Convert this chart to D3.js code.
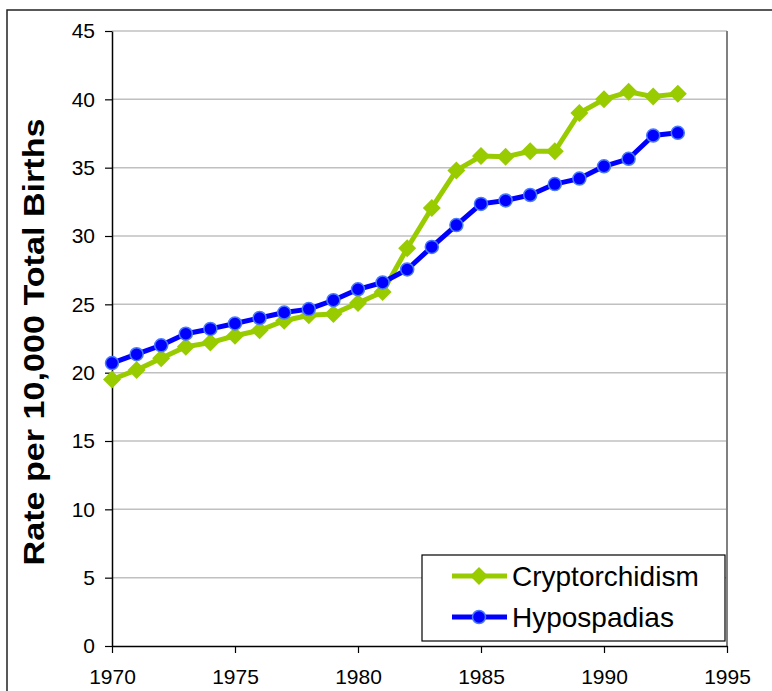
<!DOCTYPE html>
<html>
<head>
<meta charset="utf-8">
<script src="https://cdn.jsdelivr.net/npm/d3@7"></script>
<style>
  body { margin: 0; background: #fff; }
  text { font-family: "Liberation Sans", Arial, sans-serif; }
</style>
</head>
<body>
<div id="chart"></div>
<script>
var years = d3.range(1970, 1994);
var cryptorchidism = [19.5, 20.2, 21.05, 21.9, 22.2, 22.7, 23.1, 23.8, 24.2, 24.3, 25.1, 25.9,
    29.1, 32.05, 34.8, 35.85, 35.8, 36.2, 36.2, 39.0, 40.0, 40.55, 40.2, 40.4];
var hypospadias = [20.7, 21.35, 22.0, 22.85, 23.2, 23.6, 24.0, 24.4, 24.65, 25.3, 26.1, 26.6,
    27.55, 29.2, 30.8, 32.35, 32.6, 33.0, 33.8, 34.2, 35.1, 35.65, 37.35, 37.55];
var xTicks = [1970, 1975, 1980, 1985, 1990, 1995];
var yTicks = [0, 5, 10, 15, 20, 25, 30, 35, 40, 45];
var seriesNames = ["Cryptorchidism", "Hypospadias"];

var width = 772;
var height = 691;
var green = "#99CC00";
var blue = "#0000FF";

var svg = d3.select("#chart")
    .append("svg")
    .attr("width", width)
    .attr("height", height);

// outer chart border (cut off at right and bottom)
svg.append("rect")
    .attr("x", 7)
    .attr("y", 10)
    .attr("width", 800)
    .attr("height", 720)
    .attr("fill", "white")
    .attr("stroke", "#222")
    .attr("stroke-width", 1.5);

var x = d3.scaleLinear().domain([1970, 1995]).range([112, 727]);
var y = d3.scaleLinear().domain([0, 45]).range([646, 31]);

// gridlines
svg.append("g")
    .selectAll("line")
    .data(yTicks.filter(function (d) { return d > 0; }))
    .enter()
    .append("line")
    .attr("x1", x(1970))
    .attr("x2", x(1995))
    .attr("y1", function (d) { return y(d); })
    .attr("y2", function (d) { return y(d); })
    .attr("stroke", "#C0C0C0")
    .attr("stroke-width", 1.5);

// plot area right border
svg.append("line")
    .attr("x1", x(1995)).attr("x2", x(1995))
    .attr("y1", y(45)).attr("y2", y(0))
    .attr("stroke", "#808080")
    .attr("stroke-width", 2);

// y axis
var yAxis = d3.axisLeft(y).tickValues(yTicks).tickSize(7).tickSizeOuter(0).tickPadding(10);
var gy = svg.append("g")
    .attr("transform", "translate(" + x(1970) + ",0)")
    .call(yAxis);
gy.select(".domain").attr("stroke", "#000").attr("stroke-width", 1.5);
gy.selectAll(".tick line").attr("stroke", "#000").attr("stroke-width", 1.2);
gy.selectAll(".tick text")
    .style("font-family", '"Liberation Sans", Arial, sans-serif')
    .style("font-size", "21px")
    .attr("fill", "#000");

// x axis
var xAxis = d3.axisBottom(x).tickValues(xTicks).tickFormat(d3.format("d")).tickSize(7).tickSizeOuter(0).tickPadding(16);
var gx = svg.append("g")
    .attr("transform", "translate(0," + y(0) + ")")
    .call(xAxis);
gx.select(".domain").attr("stroke", "#000").attr("stroke-width", 1.5);
gx.selectAll(".tick line").attr("stroke", "#000").attr("stroke-width", 1.2);
gx.selectAll(".tick text")
    .style("font-family", '"Liberation Sans", Arial, sans-serif')
    .style("font-size", "21px")
    .attr("fill", "#000");

// y axis title
svg.append("text")
    .attr("transform", "translate(44,342) rotate(-90)")
    .attr("text-anchor", "middle")
    .attr("textLength", 447)
    .attr("lengthAdjust", "spacingAndGlyphs")
    .style("font-size", "29px")
    .style("font-weight", "bold")
    .attr("fill", "#000")
    .text("Rate per 10,000 Total Births");

var line = d3.line()
    .x(function (d, i) { return x(years[i]); })
    .y(function (d) { return y(d); });

function diamond(g, cx, cy, r) {
    g.append("path")
        .attr("d", "M" + cx + "," + (cy - r) + "L" + (cx + r) + "," + cy + "L" + cx + "," + (cy + r) + "L" + (cx - r) + "," + cy + "Z")
        .attr("fill", green);
}

function dot(g, cx, cy) {
    g.append("circle")
        .attr("cx", cx)
        .attr("cy", cy)
        .attr("r", 6.5)
        .attr("fill", blue)
        .attr("stroke", "#4A7BFF")
        .attr("stroke-width", 1.5);
}

// cryptorchidism series
svg.append("path")
    .datum(cryptorchidism)
    .attr("d", line)
    .attr("fill", "none")
    .attr("stroke", green)
    .attr("stroke-width", 5)
    .attr("stroke-linejoin", "round");
var gC = svg.append("g");
cryptorchidism.forEach(function (d, i) { diamond(gC, x(years[i]), y(d), 9); });

// hypospadias series
svg.append("path")
    .datum(hypospadias)
    .attr("d", line)
    .attr("fill", "none")
    .attr("stroke", blue)
    .attr("stroke-width", 5)
    .attr("stroke-linejoin", "round");
var gH = svg.append("g");
hypospadias.forEach(function (d, i) { dot(gH, x(years[i]), y(d)); });

// legend
var legend = svg.append("g");
legend.append("rect")
    .attr("x", 422)
    .attr("y", 555)
    .attr("width", 303)
    .attr("height", 86)
    .attr("fill", "white")
    .attr("stroke", "#000")
    .attr("stroke-width", 1.2);

var rowY = [576, 617];
var colors = [green, blue];
seriesNames.forEach(function (name, i) {
    legend.append("line")
        .attr("x1", 452).attr("x2", 507)
        .attr("y1", rowY[i]).attr("y2", rowY[i])
        .attr("stroke", colors[i])
        .attr("stroke-width", 5);
    if (i === 0) diamond(legend, 479, rowY[i], 9);
    else dot(legend, 479, rowY[i]);
    legend.append("text")
        .attr("x", 512)
        .attr("y", rowY[i] + 10)
        .style("font-size", "28px")
        .attr("fill", "#000")
        .text(name);
});
</script>
</body>
</html>
